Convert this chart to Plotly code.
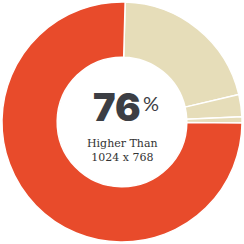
import plotly.graph_objects as go

labels = ["Segment A", "Segment B", "Segment C", "Higher Than 1024 x 768"]
values = [20.9, 3.0, 0.8, 75.3]
colors = ["#E6DDB9", "#E6DDB9", "#E6DDB9", "#E84B2B"]
big_text = "76"
pct_text = "%"
sub_lines = ["Higher Than", "1024 x 768"]

fig = go.Figure(go.Pie(
    labels=labels, values=values, sort=False, direction="clockwise", rotation=1.5,
    hole=0.54, marker=dict(colors=colors, line=dict(color="white", width=1.5)),
    textinfo="none", hoverinfo="label+percent", showlegend=False,
    domain=dict(x=[0.008, 0.992], y=[0.008, 0.992]),
))

fig.add_annotation(x=0.48, y=0.56, xref="paper", yref="paper", text=big_text,
                   showarrow=False, xanchor="center", yanchor="middle",
                   font=dict(family="Inter", size=38, color="#3C3E44", weight=900))
fig.add_annotation(x=0.578, y=0.578, xref="paper", yref="paper", text=pct_text,
                   showarrow=False, xanchor="left", yanchor="middle",
                   font=dict(family="Lato", size=20, color="#3C3E44"))
fig.add_annotation(x=0.5, y=0.385, xref="paper", yref="paper", text="<br>".join(sub_lines),
                   showarrow=False, xanchor="center", yanchor="middle",
                   font=dict(family="DejaVu Serif", size=11, color="#333333"))

fig.update_layout(width=244, height=244, margin=dict(l=0, r=0, t=0, b=0),
                  paper_bgcolor="white", plot_bgcolor="white")
fig.write_html("out.html")
